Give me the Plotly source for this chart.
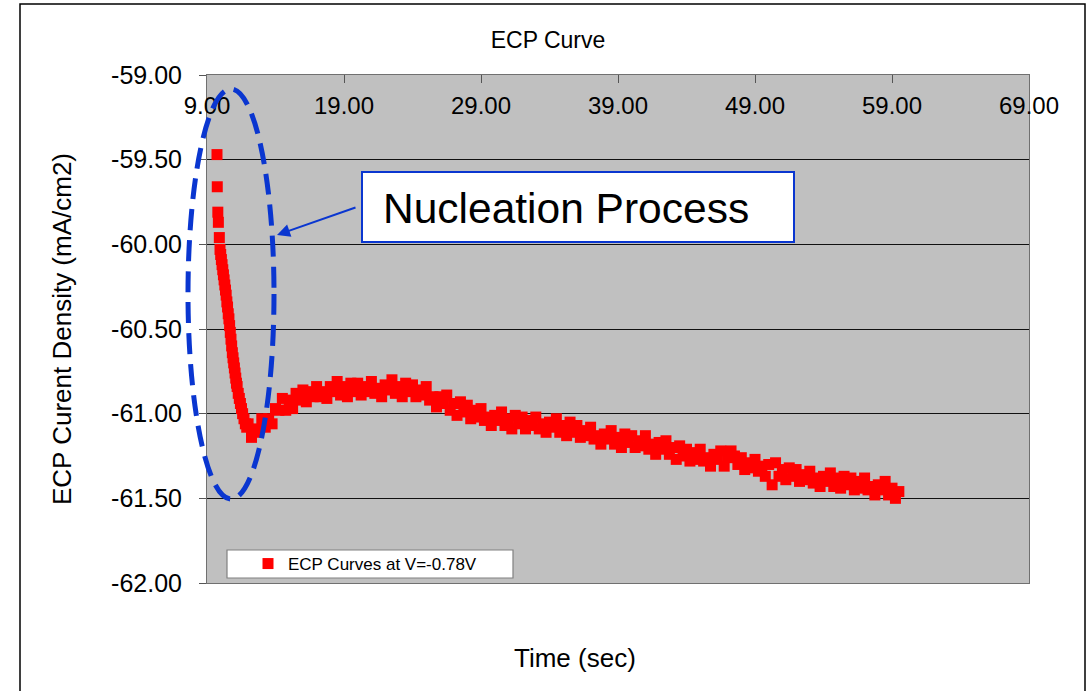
import plotly.graph_objects as go

# ECP measurement at V = -0.78 V: time (s) and current density (mA/cm2)
time_s = [
    9.73, 9.75, 9.79, 9.83, 9.90, 9.95, 10.00, 10.05, 10.10, 10.15, 10.20, 10.25,
    10.30, 10.35, 10.40, 10.45, 10.50, 10.55, 10.60, 10.65, 10.70, 10.75, 10.80,
    10.85, 10.90, 10.95, 11.00, 11.05, 11.10, 11.15, 11.20, 11.28, 11.36, 11.44,
    11.52, 11.60, 11.70, 11.80, 11.90,
    12.00, 12.25, 12.50, 12.75, 13.00, 13.25, 13.50, 13.75,
    14.00, 14.25, 14.50, 14.75, 15.00, 15.25, 15.50, 15.75,
    16.00, 16.25, 16.50, 16.75, 17.00, 17.25, 17.50, 17.75,
    18.00, 18.25, 18.50, 18.75, 19.00, 19.25, 19.50, 19.75,
    20.00, 20.25, 20.50, 20.75, 21.00, 21.25, 21.50, 21.75,
    22.00, 22.25, 22.50, 22.75, 23.00, 23.25, 23.50, 23.75,
    24.00, 24.25, 24.50, 24.75, 25.00, 25.25, 25.50, 25.75,
    26.00, 26.25, 26.50, 26.75, 27.00, 27.25, 27.50, 27.75,
    28.00, 28.25, 28.50, 28.75, 29.00, 29.25, 29.50, 29.75,
    30.00, 30.25, 30.50, 30.75, 31.00, 31.25, 31.50, 31.75,
    32.00, 32.25, 32.50, 32.75, 33.00, 33.25, 33.50, 33.75,
    34.00, 34.25, 34.50, 34.75, 35.00, 35.25, 35.50, 35.75,
    36.00, 36.25, 36.50, 36.75, 37.00, 37.25, 37.50, 37.75,
    38.00, 38.25, 38.50, 38.75, 39.00, 39.25, 39.50, 39.75,
    40.00, 40.25, 40.50, 40.75, 41.00, 41.25, 41.50, 41.75,
    42.00, 42.25, 42.50, 42.75, 43.00, 43.25, 43.50, 43.75,
    44.00, 44.25, 44.50, 44.75, 45.00, 45.25, 45.50, 45.75,
    46.00, 46.25, 46.50, 46.75, 47.00, 47.25, 47.50, 47.75,
    48.00, 48.25, 48.50, 48.75, 49.00, 49.25, 49.50, 49.75,
    50.00, 50.25, 50.50, 50.75, 51.00, 51.25, 51.50, 51.75,
    52.00, 52.25, 52.50, 52.75, 53.00, 53.25, 53.50, 53.75,
    54.00, 54.25, 54.50, 54.75, 55.00, 55.25, 55.50, 55.75,
    56.00, 56.25, 56.50, 56.75, 57.00, 57.25, 57.50, 57.75,
    58.00, 58.25, 58.50, 58.75, 59.00, 59.25, 59.50,
]

current_density = [
    -59.47, -59.66, -59.81, -59.87, -59.96, -60.03, -60.06, -60.09, -60.12, -60.15,
    -60.18, -60.21, -60.24, -60.27, -60.30, -60.34, -60.37, -60.41, -60.44, -60.48,
    -60.52, -60.56, -60.60, -60.64, -60.67, -60.70, -60.73, -60.76, -60.79, -60.82,
    -60.84, -60.88, -60.91, -60.94, -60.97, -61.00, -61.03, -61.06, -61.08,
    -61.06, -61.14, -61.09, -61.11, -61.03, -61.08, -61.03, -61.06,
    -60.97, -60.98, -60.91, -60.98, -60.92, -60.97, -60.88, -60.92,
    -60.86, -60.93, -60.87, -60.90, -60.84, -60.90, -60.87, -60.91,
    -60.84, -60.87, -60.81, -60.89, -60.84, -60.90, -60.82, -60.87,
    -60.82, -60.89, -60.84, -60.87, -60.81, -60.88, -60.85, -60.90,
    -60.83, -60.86, -60.80, -60.88, -60.84, -60.90, -60.82, -60.87,
    -60.83, -60.90, -60.86, -60.89, -60.84, -60.92, -60.90, -60.96,
    -60.90, -60.94, -60.89, -60.98, -60.94, -61.01, -60.93, -60.99,
    -60.95, -61.03, -60.98, -61.02, -60.97, -61.04, -61.02, -61.07,
    -61.01, -61.04, -60.99, -61.07, -61.03, -61.09, -61.01, -61.06,
    -61.02, -61.09, -61.04, -61.07, -61.02, -61.09, -61.06, -61.11,
    -61.05, -61.08, -61.03, -61.11, -61.07, -61.13, -61.05, -61.11,
    -61.07, -61.14, -61.10, -61.13, -61.08, -61.15, -61.13, -61.18,
    -61.12, -61.15, -61.10, -61.18, -61.14, -61.20, -61.12, -61.17,
    -61.13, -61.20, -61.16, -61.19, -61.13, -61.21, -61.18, -61.24,
    -61.17, -61.21, -61.16, -61.24, -61.20, -61.27, -61.19, -61.25,
    -61.21, -61.28, -61.23, -61.27, -61.21, -61.28, -61.26, -61.31,
    -61.24, -61.27, -61.22, -61.31, -61.26, -61.22, -61.25, -61.30,
    -61.26, -61.33, -61.29, -61.32, -61.27, -61.34, -61.31, -61.37,
    -61.30, -61.42, -61.29, -61.37, -61.33, -61.39, -61.32, -61.37,
    -61.33, -61.40, -61.36, -61.39, -61.34, -61.41, -61.38, -61.43,
    -61.37, -61.40, -61.35, -61.43, -61.38, -61.44, -61.37, -61.42,
    -61.38, -61.45, -61.40, -61.44, -61.38, -61.45, -61.43, -61.48,
    -61.42, -61.45, -61.40, -61.48, -61.44, -61.50, -61.46,
]

x_ticks = [9, 19, 29, 39, 49, 59, 69]
x_tick_text = ["9.00", "19.00", "29.00", "39.00", "49.00", "59.00", "69.00"]
y_ticks = [-62.0, -61.5, -61.0, -60.5, -60.0, -59.5, -59.0]
y_tick_text = ["-62.00", "-61.50", "-61.00", "-60.50", "-60.00", "-59.50", "-59.00"]

FONT = "Liberation Sans, Arial, sans-serif"
BLUE = "#0a36d0"

# plot-area pixel geometry (for placing the callouts in paper coordinates)
L, R, T, B = 207, 1029, 75, 583


def px(x):
    return (x - L) / (R - L)


def py(y):
    return (B - y) / (B - T)


fig = go.Figure()
fig.add_trace(go.Scatter(
    x=time_s, y=current_density, mode="markers",
    name="ECP Curves at V=-0.78V",
    marker=dict(symbol="square", size=11, color="#ff0000", line=dict(width=0)),
))

fig.update_layout(
    width=1092, height=691, autosize=False,
    margin=dict(l=L, r=1092 - R, t=T, b=691 - B),
    paper_bgcolor="white", plot_bgcolor="#c0c0c0",
    font=dict(family=FONT, color="black"),
    title=dict(text="ECP Curve", x=548 / 1092, xanchor="center", y=1 - 40 / 691,
               yanchor="middle", font=dict(size=23, family=FONT, color="black")),
    showlegend=True,
    legend=dict(x=px(248), y=py(564), xanchor="left", yanchor="middle",
                bgcolor="rgba(0,0,0,0)", borderwidth=0,
                font=dict(size=17, family=FONT, color="black"),
                itemclick=False),
    xaxis=dict(
        side="top", range=[9, 69], tickvals=x_ticks, ticktext=x_tick_text,
        ticks="inside", ticklen=8, tickcolor="#555555",
        ticklabelposition="inside", ticklabeloverflow="allow",
        ticklabelstandoff=16,
        tickfont=dict(size=24, family=FONT, color="black"),
        showgrid=False, zeroline=False,
        showline=True, linecolor="#707070", linewidth=1, mirror=True,
    ),
    yaxis=dict(
        range=[-62, -59], tickvals=y_ticks, ticktext=y_tick_text,
        ticks="outside", ticklen=7, tickcolor="#555555",
        ticklabelstandoff=12,
        tickfont=dict(size=25, family=FONT, color="black"),
        showgrid=True, gridcolor="#111111", gridwidth=1, zeroline=False,
        showline=True, linecolor="#707070", linewidth=1, mirror=True,
        title=dict(text="ECP Curent Density (mA/cm2)", standoff=32,
                   font=dict(size=26, family=FONT, color="black")),
    ),
)

shapes = [
    # outer frame of the figure
    dict(type="rect", xref="paper", yref="paper",
         x0=px(20), x1=px(1085), y0=py(760), y1=py(4),
         line=dict(color="black", width=1.5), layer="below"),
    # legend frame
    dict(type="rect", xref="paper", yref="paper",
         x0=px(227), x1=px(513), y0=py(578), y1=py(550),
         fillcolor="white", line=dict(color="#808080", width=1.2), layer="above"),
    # dashed ellipse around the initial drop
    dict(type="circle", xref="paper", yref="paper",
         x0=px(188), x1=px(274), y0=py(499), y1=py(89),
         line=dict(color=BLUE, width=5, dash="21px,10px"), layer="above"),
    # callout box
    dict(type="rect", xref="paper", yref="paper",
         x0=px(362), x1=px(794), y0=py(242), y1=py(172),
         fillcolor="white", line=dict(color=BLUE, width=2), layer="above"),
]
fig.update_layout(shapes=shapes)

fig.add_annotation(
    text="Nucleation Process", xref="paper", yref="paper",
    x=px(381), y=py(208), xanchor="left", yanchor="middle", showarrow=False,
    font=dict(size=42.5, family=FONT, color="black"),
)
fig.add_annotation(
    text="", xref="paper", yref="paper", x=px(277), y=py(235),
    showarrow=True, ax=80, ay=-28, arrowhead=2, arrowsize=1.3,
    arrowwidth=2, arrowcolor=BLUE,
)
fig.add_annotation(
    text="Time (sec)", xref="paper", yref="paper",
    x=px(575), y=py(658), xanchor="center", yanchor="middle", showarrow=False,
    font=dict(size=26, family=FONT, color="black"),
)

fig.write_html("out.html")
